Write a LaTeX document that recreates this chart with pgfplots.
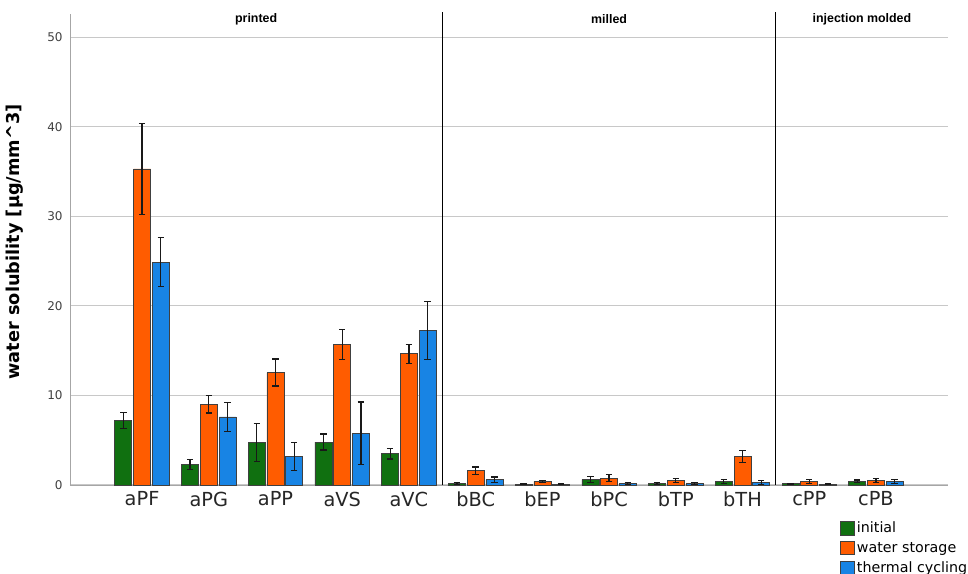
\documentclass[border=0pt]{standalone}
\usepackage{fontspec}
\setmainfont{DejaVu Sans}
\newfontfamily\helv{Liberation Sans}
\usepackage{pgfplots}
\usepackage{pgfplotstable}
\pgfplotsset{compat=1.18}
\definecolor{cinit}{RGB}{16,112,16}
\definecolor{cwater}{RGB}{255,92,0}
\definecolor{ctherm}{RGB}{24,132,228}
\definecolor{gridc}{RGB}{200,200,200}

\pgfplotstableread{
x y e
0 7.2 0.93
1 2.3 0.55
2 4.75 2.1
3 4.8 0.9
4 3.5 0.6
5 0.2 0.1
6 0.1 0.05
7 0.6 0.35
8 0.2 0.1
9 0.4 0.2
10 0.15 0.05
11 0.4 0.15
}\initial
\pgfplotstableread{
x y e
0 35.3 5.1
1 9.0 0.95
2 12.56 1.5
3 15.7 1.7
4 14.65 1.05
5 1.6 0.4
6 0.4 0.1
7 0.75 0.4
8 0.5 0.2
9 3.2 0.65
10 0.4 0.2
11 0.5 0.25
}\water
\pgfplotstableread{
x y e
0 24.9 2.75
1 7.6 1.65
2 3.2 1.55
3 5.77 3.5
4 17.25 3.2
5 0.6 0.3
6 0.1 0.05
7 0.2 0.1
8 0.2 0.1
9 0.3 0.2
10 0.1 0.05
11 0.4 0.2
}\thermal

\begin{document}
\begin{tikzpicture}
\path[use as bounding box] (-52.5pt,-66.75pt) rectangle (673.5pt,363.75pt);
\begin{axis}[
  at={(0,0)}, anchor=south west,
  scale only axis, width=658.5pt, height=353.25pt,
  xmin=-1.08, xmax=12.08, ymin=0, ymax=52.6,
  axis x line=bottom, axis y line=left,
  axis line style={draw=gray!70, -},
  ybar=1.3pt, bar width=12.75pt,
  xtick={0,...,11},
  xticklabels={aPF,aPG,aPP,aVS,aVC,bBC,bEP,bPC,bTP,bTH,cPP,cPB},
  xticklabel style={font=\fontsize{14.5}{16}\selectfont, text=black!85, yshift=-1.5pt},
  ytick={0,10,20,30,40,50},
  yticklabel style={font=\fontsize{9}{11}\selectfont, text=black!75, xshift=-2pt},
  /pgf/number format/assume math mode=true,
  major tick length=0pt,
  ymajorgrids, grid style={gridc, line width=0.8pt},
  ylabel={\textbf{water solubility [µg/mm\^{}3]}},
  ylabel style={font=\fontsize{13.3}{15}\selectfont, at={(axis description cs:-0.063,0.516)}, anchor=center},
  legend style={draw=none, fill=none, at={(axis description cs:0.877,-0.072)}, anchor=north west,
    font=\fontsize{10.7}{12}\selectfont, row sep=1.5pt, inner sep=0pt,
    legend cell align=left},
  legend image code/.code={\draw[#1] (0pt,-5pt) rectangle (10pt,5pt);},
  every axis plot/.append style={draw=black!75, line width=0.5pt,
    error bars/error bar style={black!90, line width=0.9pt},
    error bars/error mark options={black!90, line width=0.9pt, rotate=90, mark size=2.4pt}},
  clip=false,
]
\addplot[fill=cinit, draw=black!75, error bars/.cd, y dir=both, y explicit] table[x=x, y=y, y error=e]{\initial};
\addplot[fill=cwater, draw=black!75, error bars/.cd, y dir=both, y explicit] table[x=x, y=y, y error=e]{\water};
\addplot[fill=ctherm, draw=black!75, error bars/.cd, y dir=both, y explicit] table[x=x, y=y, y error=e]{\thermal};
\legend{initial, water storage, thermal cycling}
\draw[black, line width=0.9pt] (axis cs:4.5,0) -- (axis cs:4.5,52.85);
\draw[black, line width=0.9pt] (axis cs:9.5,0) -- (axis cs:9.5,52.85);
\node[font=\helv\bfseries\fontsize{9.3}{11}\selectfont] at (axis cs:1.71,52.0) {printed};
\node[font=\helv\bfseries\fontsize{9.3}{11}\selectfont] at (axis cs:7,52.0) {milled};
\node[font=\helv\bfseries\fontsize{9.3}{11}\selectfont] at (axis cs:10.79,52.0) {injection molded};
\end{axis}
\end{tikzpicture}
\end{document}
